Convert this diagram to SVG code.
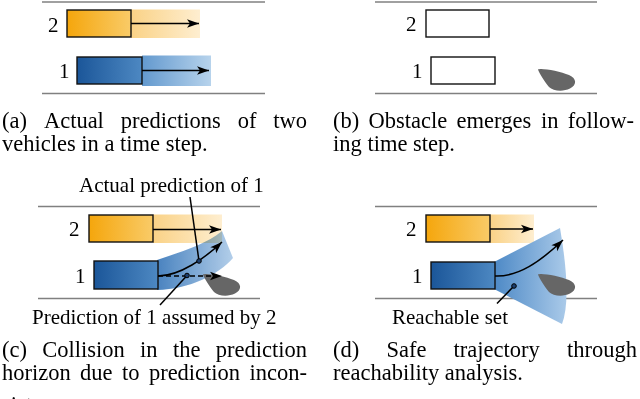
<svg xmlns="http://www.w3.org/2000/svg" width="640" height="399" viewBox="0 0 640 399">
<style>
text{font-family:"Liberation Serif","Times New Roman",serif;fill:#000}
.cap{font-size:22.5px}
.lbl{font-size:21px}
.lane{stroke:#808080;stroke-width:1.5;fill:none}
.box{stroke:#111;stroke-width:1.4}
.arr{stroke:#000;stroke-width:1.5;fill:none;marker-end:url(#ah)}
.dash{stroke:#000;stroke-width:1.5;fill:none;stroke-dasharray:5 3;marker-end:url(#ah)}
.lead{stroke:#000;stroke-width:1.5;fill:none}
.dot{fill:#1d3f6e;stroke:#000;stroke-width:1}
.obs{fill:#666}
</style>
<defs>
<linearGradient id="gOrange" x1="0" y1="0" x2="1" y2="0"><stop offset="0" stop-color="#F5A60C"/><stop offset="1" stop-color="#F9CB68"/></linearGradient>
<linearGradient id="gOrangeBand" x1="0" y1="0" x2="1" y2="0"><stop offset="0" stop-color="#FAD286"/><stop offset="1" stop-color="#FEEED0"/></linearGradient>
<linearGradient id="gBlue" x1="0" y1="0" x2="1" y2="0"><stop offset="0" stop-color="#1B5699"/><stop offset="1" stop-color="#4D88C2"/></linearGradient>
<linearGradient id="gBlueBand" x1="0" y1="0" x2="1" y2="0"><stop offset="0" stop-color="#6399CE"/><stop offset="1" stop-color="#B7D3EC"/></linearGradient>
<linearGradient id="gCurve" x1="0" y1="0" x2="1" y2="0"><stop offset="0" stop-color="#3F7CBC"/><stop offset="1" stop-color="#AFCCE9"/></linearGradient>
<linearGradient id="gFan" x1="0" y1="0" x2="1" y2="0"><stop offset="0" stop-color="#4D89C6"/><stop offset="1" stop-color="#AACAE9"/></linearGradient>
<marker id="ah" markerUnits="userSpaceOnUse" markerWidth="13" markerHeight="9" refX="12" refY="4.25" orient="auto" overflow="visible"><path d="M0,0 L12,4.25 L0,8.5 L3,4.25 Z" fill="#000"/></marker>
<path id="obstacle" d="M538,69.5 C540,67.5 560,71 569,75 C577,78.5 577,85 570,88.5 C563,92 553,91 549,87 C545,82 539,73 538,69.5 Z"/>
</defs>

<!-- Panel (a) -->
<g id="panel-a">
<line class="lane" x1="42" y1="2" x2="265" y2="2"/>
<line class="lane" x1="42" y1="93.5" x2="265" y2="93.5"/>
<g id="a-vehicle2">
<rect x="131" y="9.5" width="69" height="28.5" fill="url(#gOrangeBand)"/>
<rect class="box" x="67" y="10" width="64" height="27" fill="url(#gOrange)"/>
<text class="lbl" x="48" y="32">2</text>
</g>
<g id="a-vehicle1">
<rect x="142" y="55.5" width="69" height="30.5" fill="url(#gBlueBand)"/>
<rect class="box" x="77" y="57" width="65" height="27" fill="url(#gBlue)"/>
<text class="lbl" x="59" y="78">1</text>
</g>
<g id="a-connectors">
<line class="arr" x1="131" y1="23.5" x2="199" y2="23.5"/>
<line class="arr" x1="142" y1="70.5" x2="209" y2="70.5"/>
</g>
</g>

<!-- Panel (b) -->
<g id="panel-b">
<line class="lane" x1="375" y1="2" x2="597" y2="2"/>
<line class="lane" x1="375" y1="93.5" x2="597" y2="93.5"/>
<g id="b-vehicle2">
<rect class="box" x="426" y="10" width="63" height="27" fill="#fff"/>
<text class="lbl" x="406" y="31">2</text>
</g>
<g id="b-vehicle1">
<rect class="box" x="431" y="57" width="64" height="27" fill="#fff"/>
<text class="lbl" x="412" y="78">1</text>
</g>
<g id="b-obstacle"><use href="#obstacle" class="obs"/></g>
</g>

<!-- Panel (c) -->
<g id="panel-c">
<line class="lane" x1="38" y1="206.5" x2="260" y2="206.5"/>
<line class="lane" x1="38" y1="298.5" x2="260" y2="298.5"/>
<g id="c-vehicle2">
<rect x="153" y="214.5" width="69" height="28.5" fill="url(#gOrangeBand)"/>
<rect class="box" x="89" y="215" width="64" height="27" fill="url(#gOrange)"/>
<text class="lbl" x="69" y="236">2</text>
</g>
<g id="c-vehicle1">
<path d="M157,260 C180,252 205,245 222,231 L233,258 C218,275 190,289 157,290 Z" fill="url(#gCurve)" style="mix-blend-mode:multiply" opacity="0.95"/>
<rect class="box" x="94" y="261" width="64" height="28" fill="url(#gBlue)"/>
<text class="lbl" x="75" y="283">1</text>
</g>
<g id="c-obstacle"><use href="#obstacle" class="obs" transform="translate(-335,205)"/></g>
<g id="c-connectors">
<line class="arr" x1="153" y1="229.5" x2="221" y2="229.5"/>
<path class="arr" d="M158,276 C180,276 205,258 222,242"/>
<line class="dash" x1="158" y1="276" x2="222" y2="276"/>
<line class="lead" x1="190" y1="197" x2="199" y2="261"/>
<circle class="dot" cx="199" cy="261" r="2.3"/>
<line class="lead" x1="187" y1="275.5" x2="160" y2="305"/>
<circle class="dot" cx="187" cy="275.5" r="2.3"/>
</g>
<g id="c-labels">
<text class="lbl" x="79" y="192">Actual prediction of 1</text>
<text class="lbl" x="32" y="324">Prediction of 1 assumed by 2</text>
</g>
</g>

<!-- Panel (d) -->
<g id="panel-d">
<line class="lane" x1="375" y1="206.5" x2="597" y2="206.5"/>
<line class="lane" x1="375" y1="298.5" x2="597" y2="298.5"/>
<g id="d-vehicle2">
<rect x="490" y="214.5" width="44" height="28.5" fill="url(#gOrangeBand)"/>
<rect class="box" x="426" y="215" width="64" height="27" fill="url(#gOrange)"/>
<text class="lbl" x="406" y="236">2</text>
</g>
<g id="d-reachable-set">
<path d="M494,262 L560,228 Q572,298 562,324 L494,289 Z" fill="url(#gFan)"/>
</g>
<g id="d-vehicle1">
<rect class="box" x="431" y="262" width="64" height="27" fill="url(#gBlue)"/>
<text class="lbl" x="412" y="283">1</text>
</g>
<g id="d-obstacle"><use href="#obstacle" class="obs" transform="translate(0,205)"/></g>
<g id="d-connectors">
<line class="arr" x1="490" y1="229" x2="533" y2="229"/>
<path class="arr" d="M495,276 C518,277 540,262 563,240"/>
<line class="lead" x1="497" y1="303.5" x2="514" y2="286"/>
<circle class="dot" cx="514" cy="286" r="2.3"/>
</g>
<g id="d-labels">
<text class="lbl" x="392" y="324">Reachable set</text>
</g>
</g>

<!-- Captions -->
<g id="captions">
<text class="cap" y="128"><tspan x="2">(a)</tspan><tspan x="43.9">Actual</tspan><tspan x="120.8">predictions</tspan><tspan x="237.7">of</tspan></text>
<text class="cap" x="307" y="128" text-anchor="end">two</text>
<text class="cap" x="2" y="151">vehicles in a time step.</text>

<text class="cap" y="128"><tspan x="333">(b)</tspan><tspan x="368.6">Obstacle</tspan><tspan x="456.6">emerges</tspan><tspan x="541">in</tspan></text>
<text class="cap" x="634" y="128" text-anchor="end">follow-</text>
<text class="cap" x="333" y="151">ing time step.</text>

<text class="cap" y="357"><tspan x="2">(c)</tspan><tspan x="42.3">Collision</tspan><tspan x="140.1">in</tspan><tspan x="172.9">the</tspan></text>
<text class="cap" x="307" y="357" text-anchor="end">prediction</text>
<text class="cap" y="380"><tspan x="2">horizon</tspan><tspan x="80.1">due</tspan><tspan x="122">to</tspan><tspan x="148.9">prediction</tspan></text>
<text class="cap" x="307" y="380" text-anchor="end">incon-</text>
<text class="cap" x="2" y="412">sistency.</text>

<text class="cap" y="357"><tspan x="333">(d)</tspan><tspan x="386.4">Safe</tspan><tspan x="453.6">trajectory</tspan></text>
<text class="cap" x="637" y="357" text-anchor="end">through</text>
<text class="cap" x="333" y="380">reachability analysis.</text>
</g>
</svg>
